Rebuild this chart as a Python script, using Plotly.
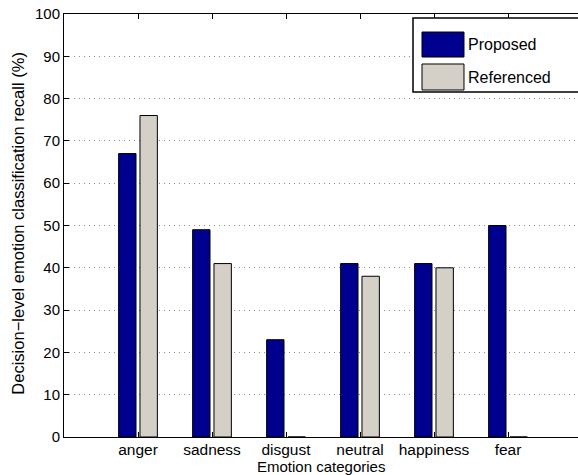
import plotly.graph_objects as go

categories = ["anger", "sadness", "disgust", "neutral", "happiness", "fear"]
proposed = [67, 49, 23, 41, 41, 50]
referenced = [76, 41, 0, 38, 40, 0]
series_names = ["Proposed", "Referenced"]
y_ticks = [0, 10, 20, 30, 40, 50, 60, 70, 80, 90, 100]
x_title = "Emotion categories"
y_title = "Decision\u2212level emotion classification recall (%)"

colors = ["#00008F", "#D4D0C8"]
FONT = "Liberation Sans, Arial, sans-serif"

xpos = list(range(1, len(categories) + 1))

fig = go.Figure()
for name, vals, col in zip(series_names, [proposed, referenced], colors):
    fig.add_trace(go.Bar(
        x=xpos, y=vals, name=name,
        marker=dict(color=col, line=dict(color="#000000", width=1)),
        showlegend=False,
    ))

# the original axes run from 0 to 7 but are clipped at the right edge of the image
fig.update_layout(
    width=578, height=475,
    margin=dict(l=64, r=0, t=14, b=38),
    paper_bgcolor="white", plot_bgcolor="white",
    barmode="group", bargap=0.423, bargroupgap=0.186,
    font=dict(family=FONT, size=15, color="#000000"),
    xaxis=dict(
        range=[0, 6.946], tickvals=xpos, ticktext=categories,
        ticks="inside", ticklen=5, tickcolor="#000000", ticklabelstandoff=-2,
        tickfont=dict(family=FONT, size=15.5, color="#000000"),
        showline=True, linecolor="#000000", linewidth=1, mirror="ticks",
        showgrid=False, zeroline=False,
    ),
    yaxis=dict(
        range=[0, 100], tickvals=y_ticks,
        ticks="inside", ticklen=5, tickcolor="#000000",
        showline=True, linecolor="#000000", linewidth=1, mirror=False,
        showgrid=True, gridcolor="#8c8c8c", griddash="1px,4px", gridwidth=1,
        zeroline=False, tickfont=dict(family=FONT, size=15, color="#000000"),
    ),
)

# axis titles
fig.add_annotation(text=x_title, xref="paper", yref="paper", x=0.5, y=-0.048,
                   xanchor="center", yanchor="top", showarrow=False,
                   font=dict(family=FONT, size=15), borderpad=0)
fig.add_annotation(text=y_title, xref="paper", yref="paper", x=-0.089, y=0.505,
                   xanchor="center", yanchor="middle", textangle=-90, showarrow=False,
                   font=dict(family=FONT, size=16.5))

# MATLAB-style legend box (clipped on the right like the axes)
fig.add_shape(type="rect", xref="paper", yref="paper", x0=0.679, x1=1.05, y0=0.8156, y1=0.9905,
              line=dict(color="#000000", width=1.5), fillcolor="white", layer="above")
sw = [(0.9574, 0.8983), (0.8818, 0.8203)]
for (y1, y0), col, name in zip(sw, colors, series_names):
    fig.add_shape(type="rect", xref="paper", yref="paper", x0=0.6965, x1=0.7782, y0=y0, y1=y1,
                  line=dict(color="#000000", width=1), fillcolor=col, layer="above")
    fig.add_annotation(text=name, xref="paper", yref="paper", x=0.782, y=(y0 + y1) / 2,
                       xanchor="left", yanchor="middle", showarrow=False,
                       font=dict(family=FONT, size=16))

fig.write_html("out.html")
